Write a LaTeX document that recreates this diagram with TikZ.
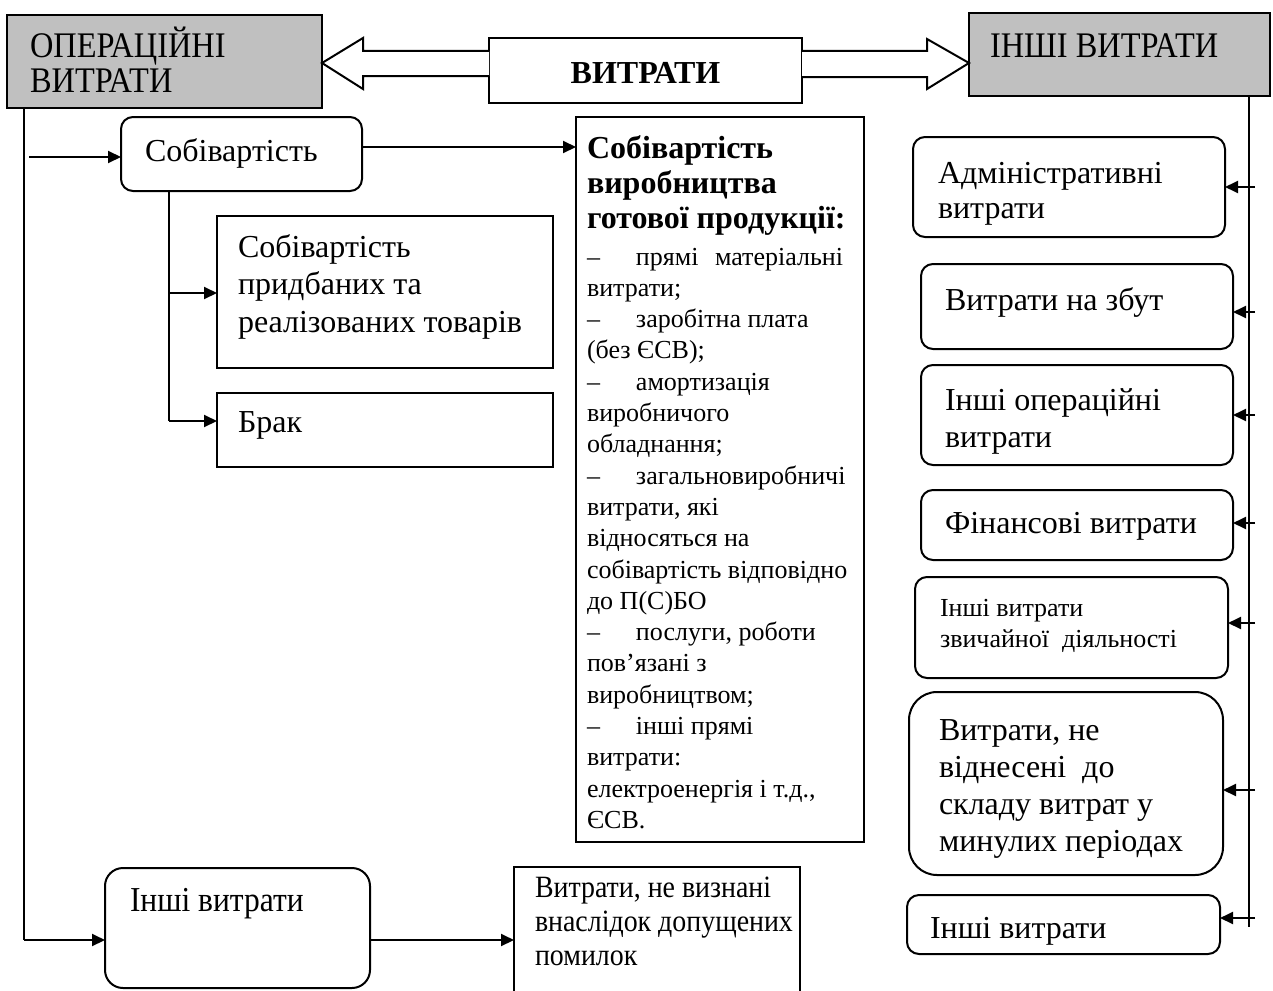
\documentclass[tikz,border=0pt]{standalone}
\usepackage{fontspec}
\setmainfont{Liberation Serif}
\newfontfamily\narrowfont[FakeStretch=0.9]{Liberation Serif}
\usetikzlibrary{arrows.meta}
\definecolor{boxgray}{HTML}{C0C0C0}
\newcommand\fsz[2]{\fontsize{#1}{#2}\selectfont}
\newcommand\itemdash{\makebox[49pt][l]{–}}
% stacked lines whose reference point is the first baseline
\newcommand\txtlines[1]{\begin{tabular}[t]{@{}l@{}}#1\end{tabular}}

\tikzset{
  every node/.style={inner sep=0pt, outer sep=0pt},
  sq/.style={draw, line width=2pt, rectangle, anchor=north west},
  rnd/.style={sq, rounded corners=12pt},
  lbl/.style={anchor=base west, font=\fsz{32}{37}},
  conn/.style={line width=2pt},
  arr/.style={conn, -{Triangle[length=13pt,width=12pt]}},
  hollow/.style={line width=2pt, fill=white},
}

\begin{document}
\begin{tikzpicture}[x=1pt,y=-1pt]
\useasboundingbox (0,0) rectangle (1273,990);

% ---- top row
\node[sq, fill=boxgray, minimum width=315pt, minimum height=93pt] (opv) at (7,15) {};
\node[lbl, font=\narrowfont\fsz{36}{35}] (opvt) at (30,57) {\txtlines{ОПЕРАЦІЙНІ\\ВИТРАТИ}};

\node[sq, minimum width=313pt, minimum height=65pt] (vyt) at (489,38) {};
\node[font=\bfseries\fsz{32}{36}] (vytt) at ([yshift=-2pt]vyt.center) {ВИТРАТИ};

\node[sq, fill=boxgray, minimum width=301pt, minimum height=83pt] (ivr) at (969,13) {};
\node[lbl, font=\narrowfont\fsz{36}{35}] (ivrt) at (990,57) {ІНШІ ВИТРАТИ};

% hollow arrows out of the central box
\draw[hollow] (vyt.west |- 0,51) -- (363,51) -- (363,38) -- (opv.east |- 0,63)
  -- (363,89) -- (363,76) -- (vyt.west |- 0,76);
\draw[hollow] (vyt.east |- 0,51) -- (927,51) -- (927,39) -- (ivr.west |- 0,63)
  -- (927,89) -- (927,77) -- (vyt.east |- 0,77);

% ---- operating expenses branch
\node[rnd, minimum width=241pt, minimum height=74pt] (sob) at (121,117) {};
\node[lbl] (sobt) at (145,161) {Собівартість};

\node[sq, minimum width=336pt, minimum height=152pt] (spr) at (217,216) {};
\node[lbl, font=\fsz{32}{37.5}] (sprt) at (238,257) {\txtlines{Собівартість\\придбаних та\\реалізованих товарів}};

\node[sq, minimum width=336pt, minimum height=74pt] (brak) at (217,393) {};
\node[lbl] (brakt) at (238,432) {Брак};

\node[sq, minimum width=288pt, minimum height=725pt] (big) at (576,117) {};
\node[anchor=base west] (bigt) at (587,158) {\begin{minipage}[t]{290pt}%
  {\bfseries\fsz{32}{35}Собівартість\\виробництва\\готової продукції:\par}%
  \vspace{5.7pt}%
  {\fsz{26}{31.3}\leavevmode\hbox to 256pt{\itemdash прямі\hfill матеріальні}\\
  витрати;\\
  \itemdash заробітна плата\\
  (без ЄСВ);\\
  \itemdash амортизація\\
  виробничого\\
  обладнання;\\
  \itemdash загальновиробничі\\
  витрати, які\\
  відносяться на\\
  собівартість відповідно\\
  до П(С)БО\\
  \itemdash послуги, роботи\\
  пов’язані з\\
  виробництвом;\\
  \itemdash інші прямі\\
  витрати:\\
  електроенергія і т.д.,\\
  ЄСВ.\par}%
  \end{minipage}};

\node[rnd, rounded corners=18pt, minimum width=265pt, minimum height=120pt] (ivl) at (105,868) {};
\node[lbl, font=\narrowfont\fsz{35}{37}] (ivlt) at (130,911) {Інші витрати};

\node[sq, minimum width=286pt, minimum height=130pt] (vnv) at (514,867) {};
\node[lbl, font=\narrowfont\fsz{31}{34}] (vnvt) at (535,897) {\txtlines{Витрати, не визнані\\внаслідок допущених\\помилок}};

% ---- other expenses branch
\node[rnd, minimum width=312pt, minimum height=100pt] (adm) at (913,137) {};
\node[lbl, font=\fsz{32}{35}] (admt) at (938,183) {\txtlines{Адміністративні\\витрати}};

\node[rnd, minimum width=312pt, minimum height=85pt] (zb) at (921,264) {};
\node[lbl] (zbt) at (945,310) {Витрати на збут};

\node[rnd, minimum width=312pt, minimum height=100pt] (ior) at (921,365) {};
\node[lbl] (iort) at (945,410) {\txtlines{Інші операційні\\витрати}};

\node[rnd, minimum width=312pt, minimum height=70pt] (fin) at (921,490) {};
\node[lbl] (fint) at (945,533) {Фінансові витрати};

\node[rnd, minimum width=313pt, minimum height=101pt] (zvd) at (915,577) {};
\node[lbl, font=\fsz{26}{31}] (zvdt) at (940,616) {\txtlines{Інші витрати\\звичайної~~діяльності}};

\node[rnd, rounded corners=28pt, minimum width=314pt, minimum height=183pt] (nvm) at (909,692) {};
\node[lbl, font=\fsz{32}{37}] (nvmt) at (939,740) {\txtlines{Витрати, не\\віднесені~~до\\складу витрат у\\минулих періодах}};

\node[rnd, minimum width=313pt, minimum height=59pt] (ivo) at (907,895) {};
\node[lbl] (ivot) at (930,938) {Інші витрати};

% ---- connectors, left side
\coordinate (lbend) at (24,940);
\coordinate (lstub) at (29,157);
\draw[conn] (opv.south -| lbend) -- (lbend);
\draw[arr] (lstub) -- (lstub -| sob.west);
\draw[arr] (lbend) -- (lbend -| ivl.west);

\coordinate (sobout) at (362,147);
\draw[arr] (sob.east |- sobout) -- (big.west |- sobout);

\coordinate (prj) at (169,293);
\coordinate (brj) at (169,421);
\draw[conn] (sob.south -| brj) -- (brj);
\draw[arr] (prj) -- (prj -| spr.west);
\draw[arr] (brj) -- (brj -| brak.west);

\coordinate (bot) at (370,940);
\draw[arr] (ivl.east |- bot) -- (vnv.west |- bot);

% ---- connectors, right side
\coordinate (rbot) at (1249,927);
\draw[conn] (ivr.south -| rbot) -- (rbot);
\foreach \bx/\yy in {adm/187, zb/312, ior/415, fin/523, zvd/623, nvm/790, ivo/918}{
  \coordinate (r-\bx) at (1255,\yy);
  \draw[arr] (r-\bx) -- (r-\bx -| \bx.east);
}
\end{tikzpicture}
\end{document}
